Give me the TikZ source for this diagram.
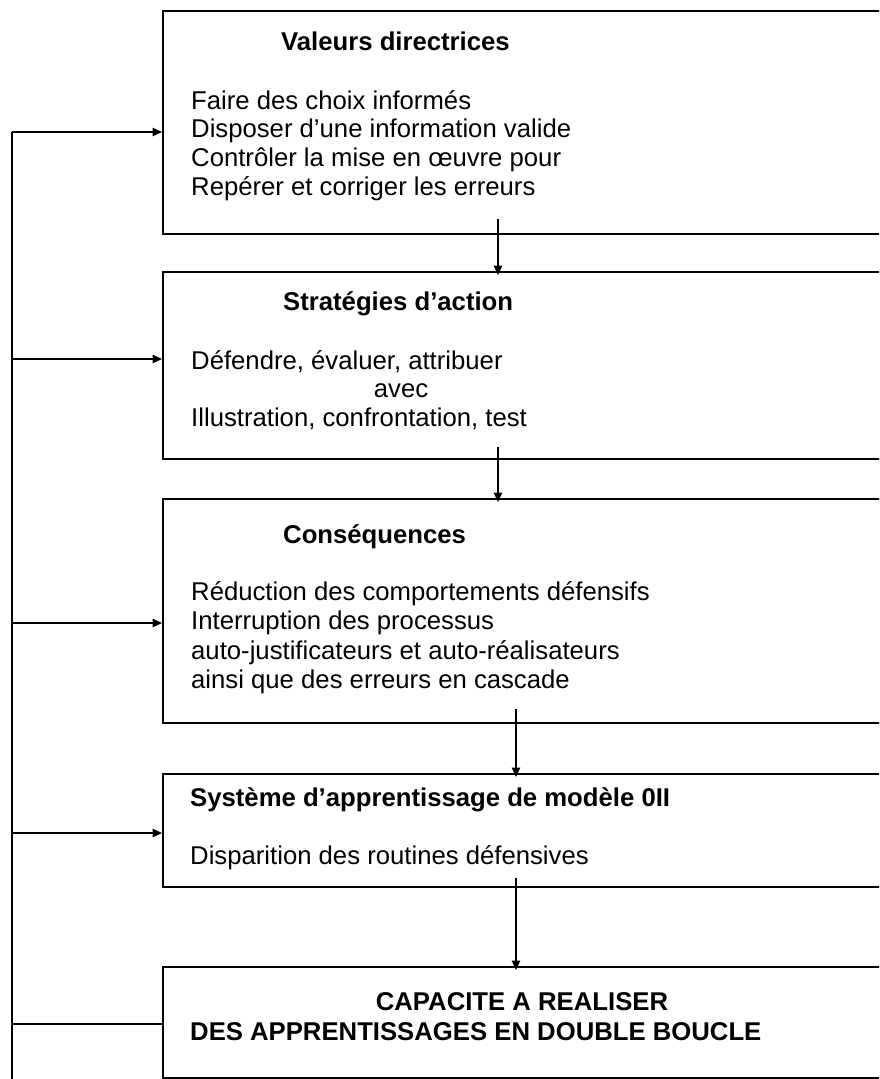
\documentclass[tikz,border=0pt]{standalone}
\usepackage{fontspec}
\setmainfont{Liberation Sans}
\usetikzlibrary{arrows.meta}
\begin{document}
\begin{tikzpicture}[x=1pt,y=-1pt,
  box/.style={draw=black,line width=1.8pt,rectangle,anchor=north west,inner sep=0pt},
  conn/.style={line width=1.2pt,draw=black},
  arr/.style={conn,-{Triangle[length=9.5pt,width=8.5pt]}},
  txt/.style={anchor=base west,inner sep=0pt,font=\fontsize{25.7}{28.5}\selectfont},
  ttl/.style={txt,font=\fontsize{25.7}{28.5}\selectfont\bfseries}]
\useasboundingbox (0,0) rectangle (879,1079);
\clip (0,0) rectangle (879,1079);
% boxes
\node[box,minimum width=760pt,minimum height=223pt] (b1) at (162,10) {};
\node[box,minimum width=760pt,minimum height=187pt] (b2) at (162,271) {};
\node[box,minimum width=760pt,minimum height=224pt] (b3) at (162,498) {};
\node[box,minimum width=760pt,minimum height=113pt] (b4) at (162,773) {};
\node[box,minimum width=760pt,minimum height=111pt] (b5) at (162,966) {};
% box 1 text
\node[ttl] (t1) at (281,50) {Valeurs directrices};
\node[txt] (l11) at (191,109) {Faire des choix informés};
\node[txt] (l12) at (191,137.8) {Disposer d’une information valide};
\node[txt] (l13) at (191,166.6) {Contrôler la mise en œuvre pour};
\node[txt] (l14) at (191,195.4) {Repérer et corriger les erreurs};
% box 2 text
\node[ttl] (t2) at (283,310) {Stratégies d’action};
\node[txt] (l21) at (191,369) {Défendre, évaluer, attribuer};
\node[txt,anchor=base] (l22) at (401,397.5) {avec};
\node[txt] (l23) at (191,426) {Illustration, confrontation, test};
% box 3 text
\node[ttl] (t3) at (283,543) {Conséquences};
\node[txt] (l31) at (191,600) {Réduction des comportements défensifs};
\node[txt] (l32) at (191,629.5) {Interruption des processus};
\node[txt] (l33) at (191,659) {auto-justificateurs et auto-réalisateurs};
\node[txt] (l34) at (191,688.5) {ainsi que des erreurs en cascade};
% box 4 text
\node[ttl] (t4) at (190,806) {Système d’apprentissage de modèle 0II};
\node[txt] (l41) at (190,864) {Disparition des routines défensives};
% box 5 text
\node[ttl,anchor=base] (t5) at (522,1010) {CAPACITE A REALISER};
\node[ttl] (l51) at (190,1040) {DES APPRENTISSAGES EN DOUBLE BOUCLE};
% vertical connectors
\coordinate (s1) at (498,219);
\coordinate (s2) at (498,447);
\coordinate (s3) at (516,709);
\coordinate (s4) at (516,878);
\draw[arr] (s1) -- ([yshift=-4pt]s1 |- b2.north);
\draw[arr] (s2) -- ([yshift=-4pt]s2 |- b3.north);
\draw[arr] (s3) -- ([yshift=-4pt]s3 |- b4.north);
\draw[arr] (s4) -- ([yshift=-4pt]s4 |- b5.north);
% feedback loop
\coordinate (f1) at (12,132);
\coordinate (f2) at (12,359);
\coordinate (f3) at (12,623);
\coordinate (f4) at (12,833);
\coordinate (f5) at (12,1024);
\coordinate (fe) at (12,1080);
\draw[conn] (f1) -- (fe);
\draw[arr] (f1) -- (f1 -| b1.west);
\draw[arr] (f2) -- (f2 -| b2.west);
\draw[arr] (f3) -- (f3 -| b3.west);
\draw[arr] (f4) -- (f4 -| b4.west);
\draw[conn] (f5) -- (f5 -| b5.west);
\end{tikzpicture}
\end{document}
